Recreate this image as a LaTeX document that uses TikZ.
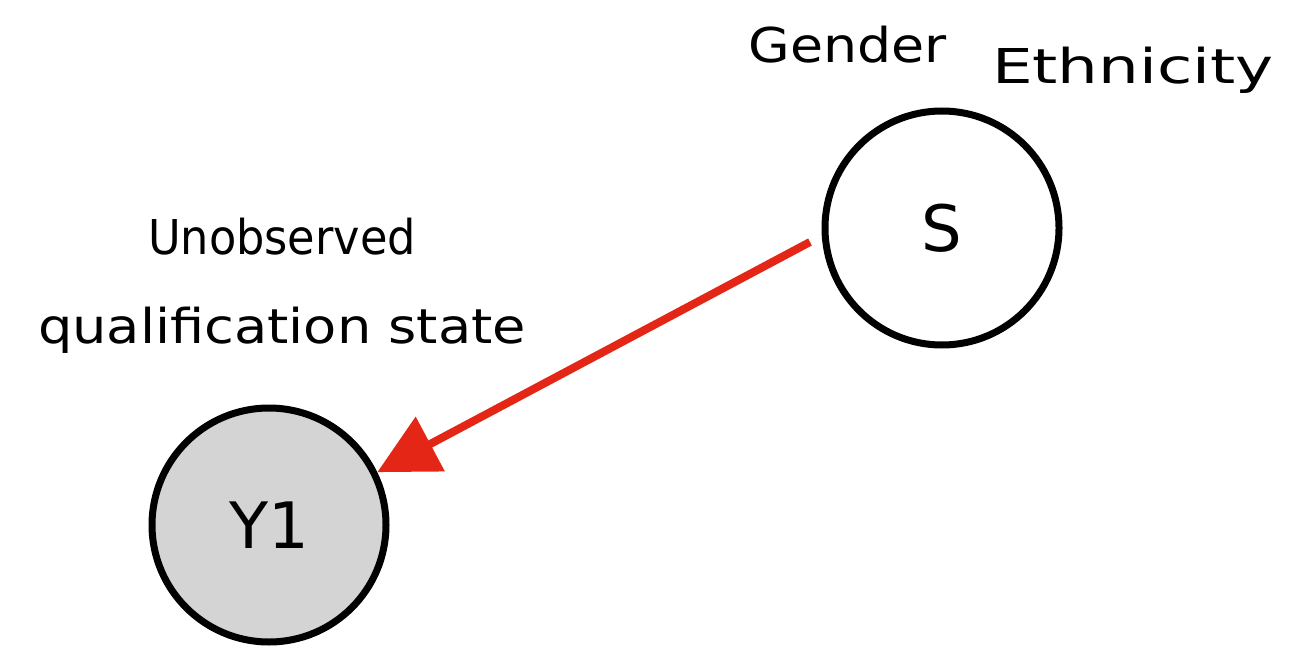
\documentclass[tikz,border=0pt]{standalone}
\usepackage{fontspec}
\setmainfont{DejaVu Sans}
\usetikzlibrary{arrows.meta}
\definecolor{arrowred}{RGB}{228,38,22}
\definecolor{nodegray}{RGB}{212,212,212}
\begin{document}
\begin{tikzpicture}[x=1pt,y=-1pt,
  varnode/.style={circle,draw=black,line width=7pt,minimum size=234pt,inner sep=0pt,font=\fontsize{64}{72}\selectfont},
  lbl/.style={font=\fontsize{48}{56}\selectfont,inner sep=0pt},
  causal/.style={draw=arrowred,line width=8pt,-{Triangle[length=60pt,width=60pt]}}]
\useasboundingbox (0,0) rectangle (1290,655);
\node[varnode] (S) at (942,228) {S};
\node[varnode,fill=nodegray] (Y1) at (269,525) {Y1};
\node[lbl] (gender) at (848,45) {\scalebox{1.12}[1]{Gender}};
\node[lbl] (eth) at (1133,70) {\scalebox{1.34}[1]{Ethnicity}};
\node[lbl] (unobs) at (282,237) {\scalebox{0.93}[1]{Unobserved}};
\node[lbl] (qual) at (282,330) {\scalebox{1.13}[1]{qualification state}};
\coordinate (a1) at (810,242);
\draw[causal] (a1) -- (Y1.26);
\end{tikzpicture}
\end{document}
